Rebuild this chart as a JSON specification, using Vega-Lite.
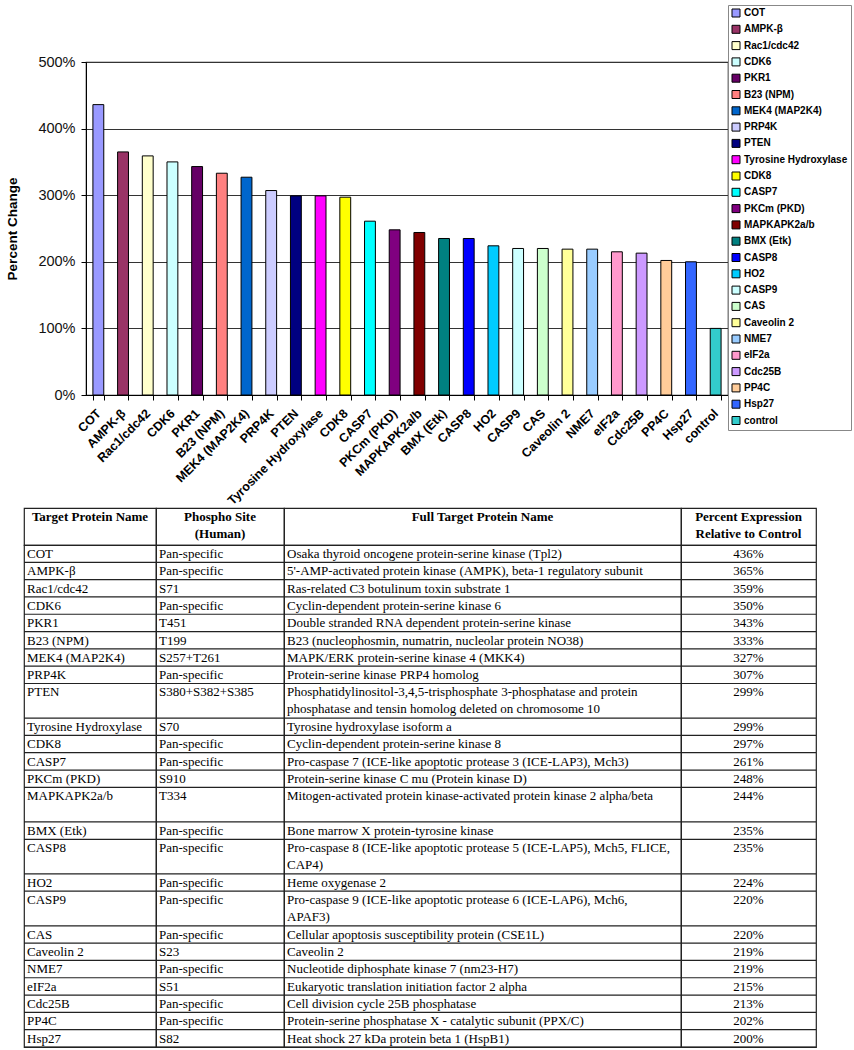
{
  "$schema": "https://vega.github.io/schema/vega-lite/v6.json",
  "padding": {"left": 4, "top": 3, "right": 2, "bottom": 2},
  "background": "white",
  "config": {
    "view": {"stroke": "#222", "strokeWidth": 1.2},
    "font": "Liberation Sans"
  },
  "datasets": {
    "proteins": [
      {"name": "COT", "site": "Pan-specific", "full": "Osaka thyroid oncogene protein-serine kinase (Tpl2)", "pct": 4.36, "lines": 1},
      {"name": "AMPK-β", "site": "Pan-specific", "full": "5'-AMP-activated protein kinase (AMPK), beta-1 regulatory subunit", "pct": 3.65, "lines": 1},
      {"name": "Rac1/cdc42", "site": "S71", "full": "Ras-related C3 botulinum toxin substrate 1", "pct": 3.59, "lines": 1},
      {"name": "CDK6", "site": "Pan-specific", "full": "Cyclin-dependent protein-serine kinase 6", "pct": 3.50, "lines": 1},
      {"name": "PKR1", "site": "T451", "full": "Double stranded RNA dependent protein-serine kinase", "pct": 3.43, "lines": 1},
      {"name": "B23 (NPM)", "site": "T199", "full": "B23 (nucleophosmin, numatrin, nucleolar protein NO38)", "pct": 3.33, "lines": 1},
      {"name": "MEK4 (MAP2K4)", "site": "S257+T261", "full": "MAPK/ERK protein-serine kinase 4 (MKK4)", "pct": 3.27, "lines": 1},
      {"name": "PRP4K", "site": "Pan-specific", "full": "Protein-serine kinase PRP4 homolog", "pct": 3.07, "lines": 1},
      {"name": "PTEN", "site": "S380+S382+S385", "full": "Phosphatidylinositol-3,4,5-trisphosphate 3-phosphatase and protein\nphosphatase and tensin homolog deleted on chromosome 10", "pct": 2.99, "lines": 2},
      {"name": "Tyrosine Hydroxylase", "site": "S70", "full": "Tyrosine hydroxylase isoform a", "pct": 2.99, "lines": 1},
      {"name": "CDK8", "site": "Pan-specific", "full": "Cyclin-dependent protein-serine kinase 8", "pct": 2.97, "lines": 1},
      {"name": "CASP7", "site": "Pan-specific", "full": "Pro-caspase 7 (ICE-like apoptotic protease 3 (ICE-LAP3), Mch3)", "pct": 2.61, "lines": 1},
      {"name": "PKCm (PKD)", "site": "S910", "full": "Protein-serine kinase C mu (Protein kinase D)", "pct": 2.48, "lines": 1},
      {"name": "MAPKAPK2a/b", "site": "T334", "full": "Mitogen-activated protein kinase-activated protein kinase 2 alpha/beta", "pct": 2.44, "lines": 2},
      {"name": "BMX (Etk)", "site": "Pan-specific", "full": "Bone marrow X protein-tyrosine kinase", "pct": 2.35, "lines": 1},
      {"name": "CASP8", "site": "Pan-specific", "full": "Pro-caspase 8 (ICE-like apoptotic protease 5 (ICE-LAP5), Mch5, FLICE,\nCAP4)", "pct": 2.35, "lines": 2},
      {"name": "HO2", "site": "Pan-specific", "full": "Heme oxygenase 2", "pct": 2.24, "lines": 1},
      {"name": "CASP9", "site": "Pan-specific", "full": "Pro-caspase 9 (ICE-like apoptotic protease 6 (ICE-LAP6), Mch6,\nAPAF3)", "pct": 2.20, "lines": 2},
      {"name": "CAS", "site": "Pan-specific", "full": "Cellular apoptosis susceptibility protein (CSE1L)", "pct": 2.20, "lines": 1},
      {"name": "Caveolin 2", "site": "S23", "full": "Caveolin 2", "pct": 2.19, "lines": 1},
      {"name": "NME7", "site": "Pan-specific", "full": "Nucleotide diphosphate kinase 7 (nm23-H7)", "pct": 2.19, "lines": 1},
      {"name": "eIF2a", "site": "S51", "full": "Eukaryotic translation initiation factor 2 alpha", "pct": 2.15, "lines": 1},
      {"name": "Cdc25B", "site": "Pan-specific", "full": "Cell division cycle 25B phosphatase", "pct": 2.13, "lines": 1},
      {"name": "PP4C", "site": "Pan-specific", "full": "Protein-serine phosphatase X - catalytic subunit (PPX/C)", "pct": 2.02, "lines": 1},
      {"name": "Hsp27", "site": "S82", "full": "Heat shock 27 kDa protein beta 1 (HspB1)", "pct": 2.00, "lines": 1},
      {"name": "control", "site": "", "full": "", "pct": 1.00, "lines": 0}
    ]
  },
  "spacing": -19,
  "vconcat": [
    {
      "spacing": 0,
      "resolve": {"scale": {"color": "independent"}, "legend": {"color": "independent"}},
      "hconcat": [
        {
          "width": 1, "height": 1,
          "data": {"values": [{}]},
          "mark": {"type": "point", "opacity": 0, "size": 0},
          "encoding": {},
          "view": {"stroke": null}
        },
        {
          "width": 642,
          "height": 333,
          "data": {"name": "proteins"},
          "mark": {"type": "bar", "stroke": "black", "strokeWidth": 1},
          "encoding": {
            "x": {
              "field": "name", "type": "nominal", "sort": null,
              "scale": {"paddingInner": 0.56, "paddingOuter": 0.28},
              "axis": {
                "title": null, "labelAngle": -45, "labelAlign": "right", "labelBaseline": "middle",
                "labelFont": "Liberation Sans", "labelFontWeight": "bold", "labelFontSize": 12.5,
                "labelColor": "black", "labelPadding": 11, "tickBand": "extent", "tickSize": 5,
                "tickColor": "black", "domainColor": "black", "labelLimit": 300
              }
            },
            "y": {
              "field": "pct", "type": "quantitative",
              "scale": {"domain": [0, 5], "nice": false},
              "axis": {
                "values": [0, 1, 2, 3, 4, 5], "format": ".0%", "title": "Percent Change",
                "titleFont": "Liberation Sans", "titleFontWeight": "bold", "titleFontSize": 13.5,
                "titleColor": "black", "titlePadding": 18,
                "labelFont": "Liberation Sans", "labelFontSize": 14.5, "labelColor": "#111",
                "labelPadding": 6, "tickSize": 5, "tickColor": "black", "domainColor": "black",
                "grid": true, "gridColor": "#333", "gridWidth": 1
              }
            },
            "color": {
              "field": "name", "type": "nominal", "sort": null,
              "scale": {
                "domain": ["COT", "AMPK-β", "Rac1/cdc42", "CDK6", "PKR1", "B23 (NPM)", "MEK4 (MAP2K4)", "PRP4K", "PTEN", "Tyrosine Hydroxylase", "CDK8", "CASP7", "PKCm (PKD)", "MAPKAPK2a/b", "BMX (Etk)", "CASP8", "HO2", "CASP9", "CAS", "Caveolin 2", "NME7", "eIF2a", "Cdc25B", "PP4C", "Hsp27", "control"],
                "range": ["#9999FF", "#993366", "#FFFFCC", "#CCFFFF", "#660066", "#FF8080", "#0066CC", "#CCCCFF", "#000080", "#FF00FF", "#FFFF00", "#00FFFF", "#800080", "#800000", "#008080", "#0000FF", "#00CCFF", "#CCFFFF", "#CCFFCC", "#FFFF99", "#99CCFF", "#FF99CC", "#CC99FF", "#FFCC99", "#3366FF", "#33CCCC"]
              },
              "legend": {
                "title": null, "orient": "none", "legendX": 642, "legendY": -57,
                "symbolType": "square", "symbolSize": 64, "symbolStrokeColor": "black", "symbolStrokeWidth": 1,
                "labelFont": "Liberation Sans", "labelFontWeight": "bold", "labelFontSize": 10, "labelColor": "black",
                "labelOffset": 3, "labelLimit": 300, "rowPadding": 4.3, "padding": 3,
                "strokeColor": "#888", "fillColor": "white"
              }
            }
          }
        }
      ]
    },
    {
      "spacing": 0,
      "bounds": "flush",
      "hconcat": [
        {
          "width": 20, "height": 10,
          "data": {"values": [{}]},
          "mark": {"type": "point", "opacity": 0, "size": 0},
          "encoding": {},
          "view": {"stroke": null}
        },
        {
          "columns": 4,
          "spacing": 0,
          "bounds": "flush",
          "align": "each",
          "data": {"name": "proteins"},
          "transform": [
            {"filter": "datum.name != 'control'"},
            {"window": [{"op": "sum", "field": "lines", "as": "end"}], "frame": [null, 0]},
            {"calculate": "datum.end - datum.lines", "as": "start"}
          ],
          "concat": [
            {"width": 132, "height": 37, "data": {"values": [{"label": "Target Protein Name"}]},
             "mark": {"type": "text", "font": "Liberation Serif", "fontWeight": "bold", "fontSize": 13, "lineBreak": "\n", "lineHeight": 16.5, "baseline": "top", "align": "center", "dy": 3, "color": "black"},
             "encoding": {
               "x": {"datum": 0.5, "type": "quantitative", "scale": {"domain": [0, 1], "nice": false}, "axis": null},
               "y": {"datum": 1, "type": "quantitative", "scale": {"domain": [0, 1], "nice": false}, "axis": null},
               "text": {"field": "label"}}},
            {"width": 128, "height": 37, "data": {"values": [{"label": "Phospho Site\n(Human)"}]},
             "mark": {"type": "text", "font": "Liberation Serif", "fontWeight": "bold", "fontSize": 13, "lineBreak": "\n", "lineHeight": 16.5, "baseline": "top", "align": "center", "dy": 3, "color": "black"},
             "encoding": {
               "x": {"datum": 0.5, "type": "quantitative", "scale": {"domain": [0, 1], "nice": false}, "axis": null},
               "y": {"datum": 1, "type": "quantitative", "scale": {"domain": [0, 1], "nice": false}, "axis": null},
               "text": {"field": "label"}}},
            {"width": 397, "height": 37, "data": {"values": [{"label": "Full Target Protein Name"}]},
             "mark": {"type": "text", "font": "Liberation Serif", "fontWeight": "bold", "fontSize": 13, "lineBreak": "\n", "lineHeight": 16.5, "baseline": "top", "align": "center", "dy": 3, "color": "black"},
             "encoding": {
               "x": {"datum": 0.5, "type": "quantitative", "scale": {"domain": [0, 1], "nice": false}, "axis": null},
               "y": {"datum": 1, "type": "quantitative", "scale": {"domain": [0, 1], "nice": false}, "axis": null},
               "text": {"field": "label"}}},
            {"width": 135, "height": 37, "data": {"values": [{"label": "Percent Expression\nRelative to Control"}]},
             "mark": {"type": "text", "font": "Liberation Serif", "fontWeight": "bold", "fontSize": 13, "lineBreak": "\n", "lineHeight": 16.5, "baseline": "top", "align": "center", "dy": 3, "color": "black"},
             "encoding": {
               "x": {"datum": 0.5, "type": "quantitative", "scale": {"domain": [0, 1], "nice": false}, "axis": null},
               "y": {"datum": 1, "type": "quantitative", "scale": {"domain": [0, 1], "nice": false}, "axis": null},
               "text": {"field": "label"}}},
            {
              "width": 132, "height": 502,
              "layer": [
                {"mark": {"type": "rule", "color": "#222", "strokeWidth": 1.2},
                 "encoding": {"y": {"field": "end", "type": "quantitative", "scale": {"domain": [0, 29], "nice": false, "zero": false, "reverse": true}, "axis": null}}},
                {"mark": {"type": "text", "font": "Liberation Serif", "fontSize": 13, "align": "left", "baseline": "top", "dx": 3, "dy": 3, "lineBreak": "\n", "lineHeight": 16.5, "color": "black"},
                 "encoding": {
                   "x": {"datum": 0, "type": "quantitative", "scale": {"domain": [0, 1], "nice": false}, "axis": null},
                   "y": {"field": "start", "type": "quantitative", "scale": {"domain": [0, 29], "nice": false, "zero": false, "reverse": true}, "axis": null},
                   "text": {"field": "name"}}}
              ]
            },
            {
              "width": 128, "height": 502,
              "layer": [
                {"mark": {"type": "rule", "color": "#222", "strokeWidth": 1.2},
                 "encoding": {"y": {"field": "end", "type": "quantitative", "scale": {"domain": [0, 29], "nice": false, "zero": false, "reverse": true}, "axis": null}}},
                {"mark": {"type": "text", "font": "Liberation Serif", "fontSize": 13, "align": "left", "baseline": "top", "dx": 3, "dy": 3, "lineBreak": "\n", "lineHeight": 16.5, "color": "black"},
                 "encoding": {
                   "x": {"datum": 0, "type": "quantitative", "scale": {"domain": [0, 1], "nice": false}, "axis": null},
                   "y": {"field": "start", "type": "quantitative", "scale": {"domain": [0, 29], "nice": false, "zero": false, "reverse": true}, "axis": null},
                   "text": {"field": "site"}}}
              ]
            },
            {
              "width": 397, "height": 502,
              "layer": [
                {"mark": {"type": "rule", "color": "#222", "strokeWidth": 1.2},
                 "encoding": {"y": {"field": "end", "type": "quantitative", "scale": {"domain": [0, 29], "nice": false, "zero": false, "reverse": true}, "axis": null}}},
                {"mark": {"type": "text", "font": "Liberation Serif", "fontSize": 13, "align": "left", "baseline": "top", "dx": 3, "dy": 3, "lineBreak": "\n", "lineHeight": 16.5, "color": "black"},
                 "encoding": {
                   "x": {"datum": 0, "type": "quantitative", "scale": {"domain": [0, 1], "nice": false}, "axis": null},
                   "y": {"field": "start", "type": "quantitative", "scale": {"domain": [0, 29], "nice": false, "zero": false, "reverse": true}, "axis": null},
                   "text": {"field": "full"}}}
              ]
            },
            {
              "width": 135, "height": 502,
              "layer": [
                {"mark": {"type": "rule", "color": "#222", "strokeWidth": 1.2},
                 "encoding": {"y": {"field": "end", "type": "quantitative", "scale": {"domain": [0, 29], "nice": false, "zero": false, "reverse": true}, "axis": null}}},
                {"mark": {"type": "text", "font": "Liberation Serif", "fontSize": 13, "align": "center", "baseline": "top", "dy": 3, "color": "black"},
                 "encoding": {
                   "y": {"field": "start", "type": "quantitative", "scale": {"domain": [0, 29], "nice": false, "zero": false, "reverse": true}, "axis": null},
                   "text": {"field": "pct", "type": "quantitative", "format": ".0%"}}}
              ]
            }
          ]
        }
      ]
    }
  ]
}
